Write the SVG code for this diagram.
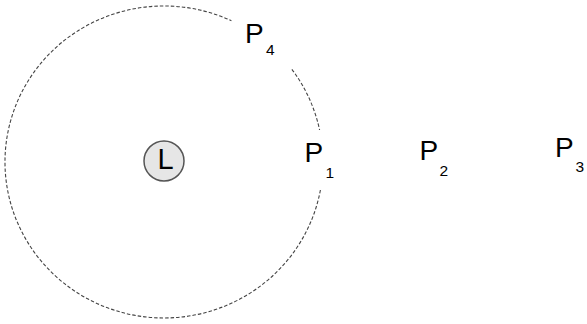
<svg xmlns="http://www.w3.org/2000/svg" width="587" height="324" viewBox="0 0 587 324">
<style>
.orbit{fill:none;stroke:#444;stroke-width:1.1;stroke-dasharray:3.5 2}
.lab{font-family:"Liberation Sans",Arial,sans-serif;font-size:28px;fill:#000}
.sub{font-family:"Liberation Sans",Arial,sans-serif;font-size:15.5px;fill:#000}
</style>
<rect width="587" height="324" fill="#fff"/>
<g id="connectors">
<path class="orbit" d="M 291.9,69.3 A 159 156 0 0 1 319.6,130"/>
<path class="orbit" d="M 320.4,190 A 159 156 0 1 1 231.4,20.7"/>
</g>
<g id="L">
<circle cx="164" cy="161" r="20" fill="#e6e6e6" stroke="#555" stroke-width="1.5"/>
<text class="lab" x="165.6" y="169.3" text-anchor="middle" style="font-size:29px">L</text>
</g>
<g id="P4"><text class="lab" x="245" y="42.5">P</text><text class="sub" x="266" y="55">4</text></g>
<g id="P1"><text class="lab" x="304.5" y="162">P</text><text class="sub" x="325.5" y="178">1</text></g>
<g id="P2"><text class="lab" x="419.5" y="160">P</text><text class="sub" x="439.5" y="175.5">2</text></g>
<g id="P3"><text class="lab" x="555" y="156.5">P</text><text class="sub" x="575.5" y="172">3</text></g>
</svg>
